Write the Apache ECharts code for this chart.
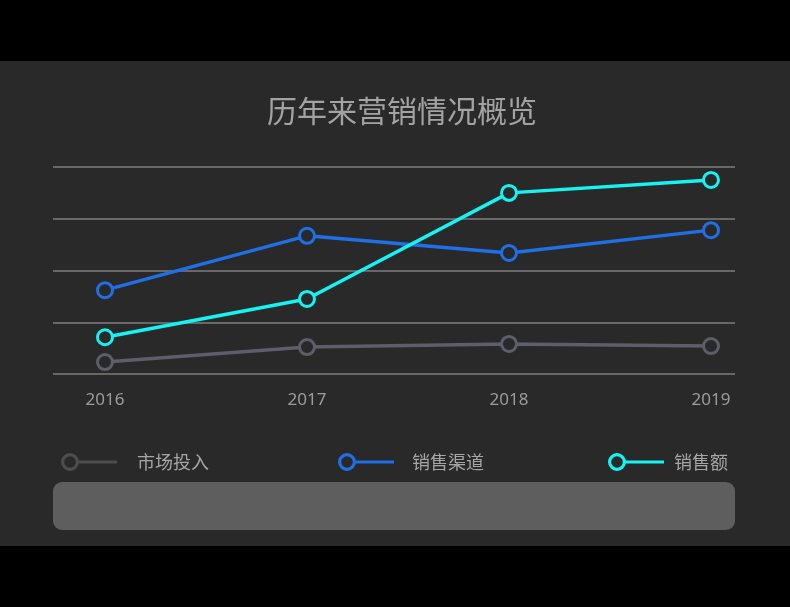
<!DOCTYPE html>
<html>
<head>
<meta charset="utf-8">
<title>历年来营销情况概览</title>
<script src="https://cdn.jsdelivr.net/npm/echarts@6/dist/echarts.min.js"></script>
<style>
  html, body { margin: 0; padding: 0; background: #000; }
  #main { width: 790px; height: 607px; }
</style>
</head>
<body>
<div id="main"></div>
<script>
// 数据
var years = ['2016', '2017', '2018', '2019'];
var seriesNames = ['市场投入', '销售渠道', '销售额'];
var marketInput = [23, 52, 58, 54];
var salesChannel = [162, 267, 234, 278];
var salesAmount = [71, 145, 350, 375];

var colors = ['#5e5d6a', '#1f6fe5', '#17f2f2'];
var legendColors = ['#4d4d4d', '#1f6fe5', '#17f2f2'];
var panelColor = '#292929';

// 图例图标：左侧圆环 + 横线
var legendIcon = 'path://M9,0 A9,9 0 1,1 9,18 A9,9 0 1,1 9,0 Z M9,3.2 A5.8,5.8 0 1,0 9,14.8 A5.8,5.8 0 1,0 9,3.2 Z M17,7.5 L56,7.5 L56,10.5 L17,10.5 Z';

function makeLegend(i, left, gap) {
	return {
		left: left,
		top: 453,
		padding: 0,
		itemWidth: 56,
		itemHeight: 18,
		itemGap: 0,
		selectedMode: false,
		textStyle: { color: '#a6a6a6', fontSize: 18, padding: [0, 0, 0, gap], fontFamily: 'Noto Sans CJK SC' },
		data: [{
			name: seriesNames[i],
			icon: legendIcon,
			itemStyle: { color: legendColors[i], borderWidth: 0 }
		}]
	};
}

function makeSeries(i, data) {
	return {
		name: seriesNames[i],
		type: 'line',
		xAxisIndex: 1,
		yAxisIndex: 1,
		data: data,
		symbol: 'circle',
		symbolSize: 15,
		lineStyle: { color: colors[i], width: 3.5 },
		itemStyle: { color: panelColor, borderColor: colors[i], borderWidth: 3 },
		emphasis: { disabled: true },
		animation: false
	};
}

var myChart = echarts.init(document.getElementById('main'));
var option = {
	backgroundColor: '#000',
	animation: false,
	graphic: [
		{ type: 'rect', z: -10, shape: { x: 0, y: 61, width: 790, height: 485 }, style: { fill: panelColor } },
		{ type: 'rect', z: -9, shape: { x: 53, y: 482, width: 682, height: 48, r: 9 }, style: { fill: '#5e5e5e' } }
	],
	title: {
		text: '历年来营销情况概览',
		left: 267,
		top: 96,
		padding: 0,
		textStyle: { color: '#a3a3a3', fontSize: 30, fontWeight: 'normal', fontFamily: 'Noto Sans CJK SC' }
	},
	legend: [makeLegend(0, 61, 15), makeLegend(1, 338, 13), makeLegend(2, 608, 5)],
	grid: [
		{ left: 53, right: 55, top: 167, bottom: 233 },
		{ left: 105, right: 79, top: 167, bottom: 233 }
	],
	xAxis: [
		{ type: 'category', gridIndex: 0, data: years, show: false },
		{
			type: 'category',
			gridIndex: 1,
			data: years,
			boundaryGap: false,
			axisLine: { show: false },
			axisTick: { show: false },
			axisLabel: { color: '#9c9c9c', fontSize: 17, margin: 18, fontFamily: 'Noto Sans' }
		}
	],
	yAxis: [
		{
			type: 'value',
			gridIndex: 0,
			min: 0,
			max: 400,
			interval: 100,
			axisLine: { show: false },
			axisTick: { show: false },
			axisLabel: { show: false },
			splitLine: { show: true, lineStyle: { color: '#7c7c7c', width: 1.5 } }
		},
		{
			type: 'value',
			gridIndex: 1,
			min: 0,
			max: 400,
			interval: 100,
			show: false,
			splitLine: { show: false }
		}
	],
	series: [
		makeSeries(0, marketInput),
		makeSeries(1, salesChannel),
		makeSeries(2, salesAmount)
	]
};
myChart.setOption(option);
</script>
</body>
</html>
